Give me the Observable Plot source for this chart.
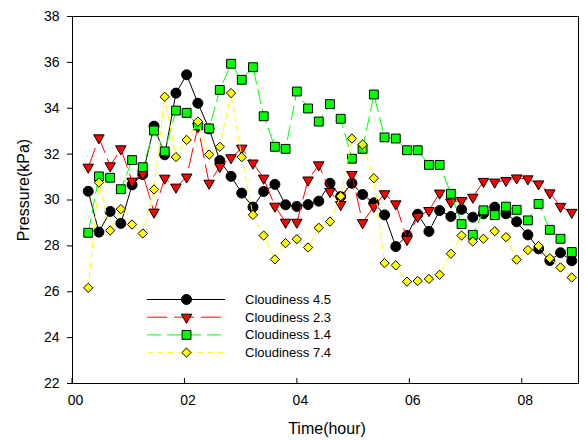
<!DOCTYPE html>
<html><head><meta charset="utf-8">
<script src="https://cdn.jsdelivr.net/npm/d3@7"></script>
<script src="https://cdn.jsdelivr.net/npm/@observablehq/plot@0.6"></script>
<style>body{margin:0;background:#fff}svg{display:block}</style>
</head><body><div id="chart"></div>
<script>
const times = [0.28,0.47,0.67,0.86,1.06,1.25,1.45,1.64,1.84,2.03,2.23,2.43,2.62,2.82,3.01,3.21,3.40,3.60,3.79,3.99,4.19,4.38,4.58,4.77,4.97,5.16,5.36,5.55,5.75,5.95,6.14,6.34,6.53,6.73,6.92,7.12,7.31,7.51,7.71,7.90,8.10,8.29,8.49,8.68,8.88];
const cloud45 = [30.38,28.60,29.50,28.98,30.66,31.11,33.22,31.97,34.66,35.46,34.22,33.10,31.72,31.03,30.30,29.69,30.37,30.68,29.79,29.72,29.80,29.95,30.73,30.15,30.73,30.24,29.88,29.35,27.97,28.45,29.38,28.63,29.54,29.28,29.59,29.25,29.40,29.69,29.40,29.05,28.48,27.87,27.36,27.70,27.35];
const cloud23 = [31.43,32.71,31.49,32.23,30.82,31.14,29.47,30.95,30.56,31.00,33.20,30.73,31.46,31.84,32.26,31.61,30.95,29.73,29.03,29.03,30.87,31.53,30.37,29.80,31.11,29.01,29.72,30.27,29.83,28.28,29.28,29.54,30.30,29.91,29.98,30.12,30.81,30.78,30.85,30.96,30.92,30.70,30.31,29.72,29.46];
const cloud14 = [28.57,31.03,30.97,30.47,31.74,31.43,33.03,32.12,33.90,33.80,33.25,33.12,34.80,35.94,35.24,35.79,33.65,32.32,32.23,34.73,33.99,33.42,34.18,33.54,31.80,32.23,34.60,32.73,32.68,32.17,32.17,31.53,31.53,30.27,28.95,28.48,29.55,29.34,29.71,29.57,29.11,29.83,28.70,28.31,27.73];
const cloud74 = [26.17,30.76,28.67,29.60,28.93,28.54,30.46,34.50,31.87,32.62,33.42,31.98,32.32,34.66,31.87,29.35,28.45,27.41,28.12,28.29,27.93,28.79,29.06,30.16,32.68,32.42,30.95,27.25,27.15,26.44,26.47,26.56,26.74,27.66,28.45,28.19,28.31,28.64,28.38,27.40,27.82,27.99,27.46,27.06,26.62];
const seriesNames = ["Cloudiness 4.5","Cloudiness 2.3","Cloudiness 1.4","Cloudiness 7.4"];
const xTicks = [0,2,4,6,8];
const xTickLabels = ["00","02","04","06","08"];
const yTicks = [22,24,26,28,30,32,34,36,38];

const seriesValues = [cloud45, cloud23, cloud14, cloud74];
const styles = [
  {line:"#000000", fill:"#000000", symbol:"circle", r:5, rotate:0, dash:null},
  {line:"#ff0000", fill:"#ff0000", symbol:"triangle", r:3.9, rotate:180, dash:"20,7"},
  {line:"#00ff00", fill:"#00ff00", symbol:"square", r:5, rotate:0, dash:"14,6"},
  {line:"#ffff00", fill:"#ffff00", symbol:"diamond2", r:4.2, rotate:0, dash:"6,4"}
];

const marks = [];
seriesValues.forEach((vals, k) => {
  const rows = vals.map((v, i) => ({t: times[i], v}));
  const s = styles[k];
  marks.push(Plot.line(rows, {x:"t", y:"v", stroke:s.line, strokeWidth:1, strokeDasharray:s.dash}));
  marks.push(Plot.dot(rows, {x:"t", y:"v", symbol:s.symbol, r:s.r, rotate:s.rotate, fill:s.fill, stroke:"#000", strokeWidth:1}));
});

const plot = Plot.plot({
  width: 585, height: 440,
  marginLeft: 72, marginRight: 7, marginTop: 16, marginBottom: 57,
  style: {fontFamily: "'Liberation Sans', Arial, sans-serif", fontSize: "14px", background: "#fff", color: "#000"},
  x: {domain: [0, 9]},
  y: {domain: [22, 38]},
  marks: [
    Plot.axisY({ticks: yTicks, tickSize: 5, tickPadding: 8, label: null, tickFormat: d => String(d)}),
    Plot.axisX({ticks: xTicks, tickSize: 0, tickPadding: 12, label: null, dx: 3, tickFormat: d => xTickLabels[xTicks.indexOf(d)]}),
    ...marks,
    Plot.frame({stroke: "#000", strokeWidth: 1})
  ]
});
document.getElementById("chart").appendChild(plot);

const svg = d3.select(plot);
const xs = plot.scale("x"), ys = plot.scale("y");
const y0 = ys.apply(22);
// inward x ticks
svg.append("g").selectAll("line").data(xTicks).join("line")
  .attr("x1", d => xs.apply(d)).attr("x2", d => xs.apply(d))
  .attr("y1", y0).attr("y2", y0 - 5).attr("stroke", "#000");

// axis titles
svg.append("text").attr("x", 327).attr("y", 428)
  .attr("text-anchor", "middle").attr("dominant-baseline", "central")
  .attr("font-size", 16).attr("fill", "#000").text("Time(hour)");
svg.append("text").attr("transform", "translate(23,190) rotate(-90)")
  .attr("text-anchor", "middle").attr("dominant-baseline", "central")
  .attr("font-size", 16).attr("fill", "#000").text("Pressure(kPa)");

// legend
const symbolMap = {circle: d3.symbolCircle, triangle: d3.symbolTriangle, square: d3.symbolSquare, diamond2: d3.symbolDiamond2};
const lg = svg.append("g").attr("font-size", 13).attr("text-anchor", "start");
seriesNames.forEach((name, k) => {
  const s = styles[k];
  const yy = 299.5 + k * 17.7;
  lg.append("line").attr("x1", 147).attr("x2", 225).attr("y1", yy).attr("y2", yy)
    .attr("stroke", s.line).attr("stroke-width", 1).attr("stroke-dasharray", s.dash);
  lg.append("path").attr("d", d3.symbol(symbolMap[s.symbol], Math.PI * s.r * s.r)())
    .attr("transform", `translate(186.5,${yy}) rotate(${s.rotate})`)
    .attr("fill", s.fill).attr("stroke", "#000").attr("stroke-width", 1);
  lg.append("text").attr("x", 245).attr("y", yy).attr("dominant-baseline", "central")
    .attr("text-anchor", "start").attr("fill", "#000").text(name);
});
</script>
</body></html>
